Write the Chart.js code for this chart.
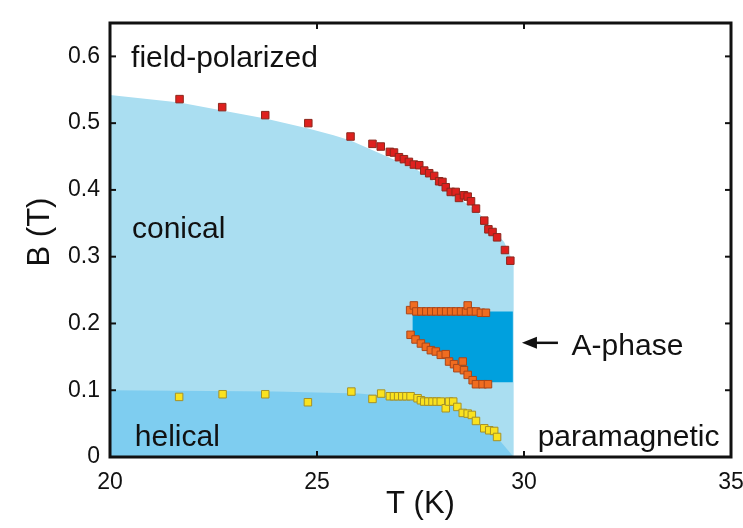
<!DOCTYPE html>
<html>
<head>
<meta charset="utf-8">
<script src="https://cdn.jsdelivr.net/npm/chart.js@4/dist/chart.umd.min.js"></script>
<style>
  html, body { margin: 0; padding: 0; background: #ffffff; }
  #c { display: block; }
</style>
</head>
<body>
<canvas id="c" width="743" height="528"></canvas>
<script>
// ---- tick labels ----
const xTicks = [20, 25, 30, 35];
const yTicks = [0, 0.1, 0.2, 0.3, 0.4, 0.5, 0.6];

// ---- measured points: upper critical field (red) ----
const upperT = [21.68, 22.71, 23.75, 24.79, 25.81, 26.34, 26.54, 26.76, 26.86, 26.98, 27.10, 27.22, 27.34, 27.47, 27.59, 27.71, 27.83, 27.95, 28.03, 28.11, 28.23, 28.35, 28.43, 28.55, 28.64, 28.72, 28.84, 29.04, 29.14, 29.24, 29.35, 29.54, 29.67];
const upperB = [0.536, 0.524, 0.512, 0.500, 0.480, 0.469, 0.465, 0.457, 0.456, 0.449, 0.446, 0.442, 0.438, 0.437, 0.429, 0.425, 0.421, 0.413, 0.412, 0.404, 0.397, 0.397, 0.388, 0.392, 0.390, 0.383, 0.372, 0.354, 0.341, 0.337, 0.329, 0.310, 0.294];

// ---- A-phase upper boundary (orange) ----
const aTopT = [27.25, 27.34, 27.40, 27.52, 27.64, 27.76, 27.88, 28.00, 28.12, 28.24, 28.36, 28.48, 28.60, 28.64, 28.72, 28.84, 28.96, 29.08];
const aTopB = [0.220, 0.227, 0.218, 0.218, 0.218, 0.218, 0.218, 0.218, 0.218, 0.218, 0.218, 0.218, 0.218, 0.227, 0.218, 0.218, 0.216, 0.216];

// ---- A-phase lower boundary (orange) ----
const aBotT = [27.26, 27.38, 27.51, 27.63, 27.75, 27.87, 27.99, 28.11, 28.19, 28.31, 28.39, 28.52, 28.55, 28.64, 28.76, 28.84, 29.00, 29.13];
const aBotB = [0.183, 0.176, 0.170, 0.165, 0.160, 0.158, 0.153, 0.154, 0.143, 0.139, 0.133, 0.143, 0.130, 0.123, 0.115, 0.109, 0.109, 0.109];

// ---- helical boundary (yellow) ----
const helT = [21.67, 22.72, 23.75, 24.78, 25.83, 26.34, 26.55, 26.76, 26.86, 26.96, 27.06, 27.16, 27.26, 27.43, 27.51, 27.59, 27.69, 27.79, 27.89, 27.99, 28.11, 28.19, 28.29, 28.39, 28.52, 28.64, 28.74, 28.84, 29.04, 29.16, 29.28, 29.35];
const helB = [0.090, 0.094, 0.094, 0.082, 0.098, 0.087, 0.095, 0.091, 0.091, 0.091, 0.091, 0.091, 0.091, 0.088, 0.085, 0.083, 0.083, 0.083, 0.083, 0.083, 0.073, 0.083, 0.083, 0.075, 0.066, 0.065, 0.063, 0.054, 0.043, 0.040, 0.039, 0.030];

// ---- shaded phase regions (polygon outlines) ----
const conicalT = [20, 21.68, 22.71, 23.75, 24.79, 25.40, 25.81, 26.62, 27.42, 28.23, 28.87, 29.20, 29.52, 29.75, 29.75, 20];
const conicalB = [0.542, 0.531, 0.519, 0.507, 0.492, 0.482, 0.474, 0.452, 0.430, 0.397, 0.368, 0.345, 0.322, 0.290, 0, 0];

const helicalT = [20, 24, 26, 26.8, 27.5, 28.2, 28.6, 28.9, 29.2, 29.45, 29.75, 20];
const helicalB = [0.100, 0.098, 0.095, 0.091, 0.085, 0.078, 0.066, 0.052, 0.037, 0.022, 0, 0];

const aPhaseT = [27.31, 29.73, 29.73, 28.88, 28.72, 28.50, 28.20, 27.90, 27.60, 27.31];
const aPhaseB = [0.218, 0.218, 0.112, 0.112, 0.120, 0.135, 0.148, 0.160, 0.170, 0.182];

const zip = (xs, ys) => xs.map((x, i) => ({ x: x, y: ys[i] }));

const FONT = '"Liberation Sans", Arial, Helvetica, sans-serif';

const regionDs = (label, T, B, color, order) => ({
  type: 'line', label, data: zip(T, B), order,
  backgroundColor: color, borderColor: 'rgba(0,0,0,0)', borderWidth: 0,
  pointRadius: 0, showLine: true, fill: 'shape', tension: 0
});
const pointDs = (label, T, B, fillC, lineC) => ({
  type: 'scatter', label, data: zip(T, B), order: 0,
  pointStyle: 'rect', pointRadius: 5.3, pointHoverRadius: 5.3,
  backgroundColor: fillC, borderColor: lineC, borderWidth: 1, showLine: false
});

const annotations = {
  id: 'annotations',
  afterDatasetsDraw(chart) {
    const ctx = chart.ctx, xs = chart.scales.x, ys = chart.scales.y;
    const px = v => xs.getPixelForValue(v), py = v => ys.getPixelForValue(v);
    ctx.save();
    ctx.fillStyle = '#111';
    ctx.font = '30px ' + FONT;
    ctx.textBaseline = 'alphabetic';
    ctx.textAlign = 'left';
    ctx.fillText('field-polarized', px(20.51), py(0.584));
    ctx.fillText('conical', px(20.53), py(0.328));
    ctx.fillText('helical', px(20.60), py(0.0165));
    ctx.fillText('paramagnetic', px(30.33), py(0.0165));
    ctx.fillText('A-phase', px(31.15), py(0.153));
    // arrow
    const y0 = py(0.171), x1 = px(30.82), x0 = px(29.95);
    ctx.strokeStyle = '#111'; ctx.lineWidth = 2.5;
    ctx.beginPath(); ctx.moveTo(x1, y0); ctx.lineTo(x0 + 10, y0); ctx.stroke();
    ctx.beginPath(); ctx.moveTo(x0, y0); ctx.lineTo(x0 + 15, y0 - 6); ctx.lineTo(x0 + 15, y0 + 6); ctx.closePath(); ctx.fill();
    ctx.restore();
  },
  afterDraw(chart) {
    const ctx = chart.ctx, xs = chart.scales.x, ys = chart.scales.y, a = chart.chartArea;
    ctx.save();
    ctx.strokeStyle = '#111'; ctx.lineWidth = 3;
    ctx.strokeRect(a.left, a.top, a.right - a.left, a.bottom - a.top);
    ctx.lineWidth = 2;
    const L = 6;
    yTicks.forEach(v => {
      if (v === 0) return;
      const y = ys.getPixelForValue(v);
      ctx.beginPath(); ctx.moveTo(a.left, y); ctx.lineTo(a.left + L, y); ctx.stroke();
      ctx.beginPath(); ctx.moveTo(a.right, y); ctx.lineTo(a.right - L, y); ctx.stroke();
    });
    xTicks.forEach(v => {
      if (v === 20 || v === 35) return;
      const x = xs.getPixelForValue(v);
      ctx.beginPath(); ctx.moveTo(x, a.bottom); ctx.lineTo(x, a.bottom - L); ctx.stroke();
      ctx.beginPath(); ctx.moveTo(x, a.top); ctx.lineTo(x, a.top + L); ctx.stroke();
    });
    // axis titles
    ctx.fillStyle = '#111';
    ctx.font = '31px ' + FONT;
    ctx.textAlign = 'center'; ctx.textBaseline = 'middle';
    ctx.fillText('T (K)', (a.left + a.right) / 2, 504);
    ctx.translate(40, (a.top + a.bottom) / 2 - 8);
    ctx.rotate(-Math.PI / 2);
    ctx.fillText('B (T)', 0, 0);
    ctx.restore();
  }
};

new Chart(document.getElementById('c'), {
  type: 'scatter',
  data: {
    datasets: [
      pointDs('upper', upperT, upperB, 'rgb(222,32,30)', 'rgb(140,40,30)'),
      pointDs('A top', aTopT, aTopB, 'rgb(240,108,32)', 'rgb(170,70,25)'),
      pointDs('A bottom', aBotT, aBotB, 'rgb(240,108,32)', 'rgb(170,70,25)'),
      pointDs('helical', helT, helB, 'rgb(250,226,30)', 'rgb(165,145,40)'),
      regionDs('A-phase region', aPhaseT, aPhaseB, 'rgb(0,160,222)', 3),
      regionDs('helical region', helicalT, helicalB, 'rgb(126,205,240)', 4),
      regionDs('conical region', conicalT, conicalB, 'rgb(170,222,241)', 5)
    ]
  },
  options: {
    responsive: false,
    devicePixelRatio: 1,
    animation: false,
    layout: { padding: { left: 0, top: 23, right: 12, bottom: 0 } },
    plugins: { legend: { display: false }, tooltip: { enabled: false } },
    scales: {
      x: {
        type: 'linear', min: 20, max: 35,
        grid: { display: false, drawTicks: false }, border: { display: false },
        afterBuildTicks: s => { s.ticks = xTicks.map(v => ({ value: v })); },
        afterFit: s => { s.height = 71; s.paddingLeft = 0; s.paddingRight = 0; },
        ticks: { padding: 12, color: '#111', font: { family: FONT, size: 23 }, callback: v => String(v), maxRotation: 0 }
      },
      y: {
        type: 'linear', min: 0, max: 0.65,
        grid: { display: false, drawTicks: false }, border: { display: false },
        afterBuildTicks: s => { s.ticks = yTicks.map(v => ({ value: v })); },
        afterFit: s => { s.width = 110; s.paddingTop = 0; s.paddingBottom = 0; },
        ticks: { padding: 10, color: '#111', font: { family: FONT, size: 23 }, callback: v => (v === 0 ? '0' : Number(v).toFixed(1)) }
      }
    }
  },
  plugins: [annotations]
});
</script>
</body>
</html>
